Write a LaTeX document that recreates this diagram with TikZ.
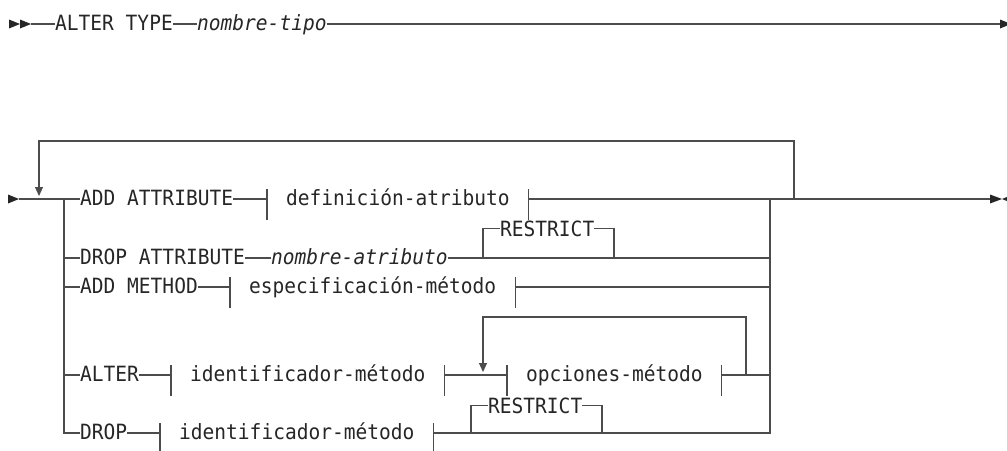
\documentclass[tikz,border=0pt]{standalone}
\usepackage{fontspec}
\setmonofont{DejaVu Sans Mono}[FakeStretch=0.93]
\usetikzlibrary{arrows.meta,calc}

\tikzset{
  rail/.style={draw=black!70, line width=1.1pt},
  kw/.style={font=\ttfamily\fontsize{21}{24}\selectfont, text=black!85, inner sep=0pt, anchor=base west},
  var/.style={kw, font=\ttfamily\itshape\fontsize{21}{24}\selectfont},
  frag/.style={kw, inner xsep=19pt},
  down/.style={-{Triangle[length=9pt,width=8pt]}},
  tipfill/.style={fill=black!85}
}

\begin{document}
\begin{tikzpicture}[x=1pt, y=-1pt]
  \useasboundingbox (0,0) rectangle (1007,450);

  % first line
  \coordinate (st0) at (31,24);
  \coordinate (end0) at (1000,24);
  \node[kw] (alttype) at (55,30) {ALTER TYPE};
  \node[var] (nomtipo) at (197,30) {nombre-tipo};
  \fill[tipfill] (9,19.5) -- (20,24) -- (9,28.5) -- cycle;
  \fill[tipfill] (20,19.5) -- (31,24) -- (20,28.5) -- cycle;
  \draw[rail] (st0) -- (alttype.west |- st0);
  \draw[rail] (alttype.east |- st0) -- (nomtipo.west |- st0);
  \draw[rail] (nomtipo.east |- st0) -- (end0);
  \fill[tipfill] (end0) ++(0,-4.5) -- ++(11,4.5) -- ++(-11,4.5) -- cycle;

  % rows of the choice
  \coordinate (r1) at (0,199);
  \coordinate (r2) at (0,258);
  \coordinate (r3) at (0,287);
  \coordinate (r4) at (0,375);
  \coordinate (r5) at (0,433);

  \coordinate (st1) at (19,199);
  \coordinate (lpL) at (39,196);
  \coordinate (brL) at (64,199);
  \coordinate (brR) at (770,199);
  \coordinate (lpR) at (794,199);
  \coordinate (end1) at (990,199);

  \node[kw] (addattr) at (80,205) {ADD ATTRIBUTE};
  \node[frag] (defattr) at (267,205) {definición-atributo};
  \node[kw] (dropattr) at (80,264) {DROP ATTRIBUTE};
  \node[var] (nomattr) at (271,264) {nombre-atributo};
  \node[kw] (restr1) at (500,236) {RESTRICT};
  \node[kw] (addmeth) at (80,293) {ADD METHOD};
  \node[frag] (espmet) at (230,293) {especificación-método};
  \node[kw] (alter) at (80,381) {ALTER};
  \node[frag] (idmet1) at (171,381) {identificador-método};
  \node[frag] (opcmet) at (507,381) {opciones-método};
  \node[kw] (drop) at (80,439) {DROP};
  \node[frag] (idmet2) at (160,439) {identificador-método};
  \node[kw] (restr2) at (488,413) {RESTRICT};

  % main line and repeat loop
  \fill[tipfill] (8,194.5) -- (19,199) -- (8,203.5) -- cycle;
  \draw[rail] (st1) -- (brL);
  \draw[rail] (brR) -- (end1);
  \draw[rail, down] (lpR) |- (39,141) -- (lpL);
  \fill[tipfill] (990,194.5) -- (1002,199) -- (990,203.5) -- cycle;
  \fill[tipfill] (1013,194.5) -- (1002,199) -- (1013,203.5) -- cycle;

  % branch rails
  \draw[rail] (brL) |- (drop.west |- r5);
  \draw[rail] (idmet2.east |- r5) -| (brR);

  % ADD ATTRIBUTE
  \draw[rail] (brL) -- (addattr.west |- r1);
  \draw[rail] (addattr.east |- r1) -- (defattr.west |- r1);
  \draw[rail] (defattr.east |- r1) -- (brR);

  % DROP ATTRIBUTE
  \coordinate (b1L) at (483,258);
  \coordinate (b1R) at (614,258);
  \draw[rail] (brL |- r2) -- (dropattr.west |- r2);
  \draw[rail] (dropattr.east |- r2) -- (nomattr.west |- r2);
  \draw[rail] (nomattr.east |- r2) -- (brR |- r2);
  \draw[rail] (b1L) |- (restr1.west);
  \draw[rail] (restr1.east) -| (b1R);

  % ADD METHOD
  \draw[rail] (brL |- r3) -- (addmeth.west |- r3);
  \draw[rail] (addmeth.east |- r3) -- (espmet.west |- r3);
  \draw[rail] (espmet.east |- r3) -- (brR |- r3);

  % ALTER
  \coordinate (lp4L) at (483,372);
  \coordinate (lp4R) at (746,375);
  \draw[rail] (brL |- r4) -- (alter.west |- r4);
  \draw[rail] (alter.east |- r4) -- (idmet1.west |- r4);
  \draw[rail] (idmet1.east |- r4) -- (opcmet.west |- r4);
  \draw[rail] (opcmet.east |- r4) -- (brR |- r4);
  \draw[rail, down] (lp4R) |- (483,317) -- (lp4L);

  % DROP
  \coordinate (b2L) at (471,433);
  \coordinate (b2R) at (602,433);
  \draw[rail] (drop.east |- r5) -- (idmet2.west |- r5);
  \draw[rail] (b2L) |- (restr2.west);
  \draw[rail] (restr2.east) -| (b2R);

  % fragment bars
  \foreach \f/\r in {defattr/r1, espmet/r3, idmet1/r4, opcmet/r4, idmet2/r5} {
    \draw[rail] (\f.west |- \r) ++(0,-10) -- ++(0,31);
    \draw[rail] (\f.east |- \r) ++(0,-10) -- ++(0,31);
  }
\end{tikzpicture}
\end{document}
